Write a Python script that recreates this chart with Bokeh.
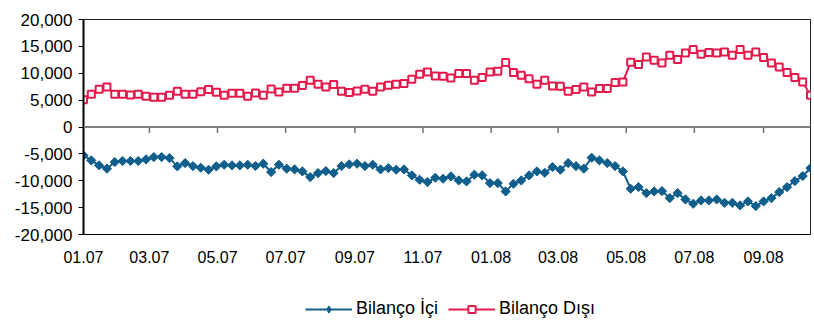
import numpy as np
import pandas as pd
from bokeh.plotting import figure
from bokeh.layouts import column
from bokeh.models import (Span, Legend, LegendItem, FixedTicker, NumeralTickFormatter,
                          DatetimeTickFormatter, Range1d)
from bokeh.embed import file_html
from bokeh.resources import INLINE

# weekly observations
dates = pd.date_range("2007-01-05", periods=94, freq="7D")

bilanco_ici = [
    -5280, -6210, -7140, -7760, -6520, -6330, -6330, -6330, -6020, -5590,
    -5590, -5780, -7330, -6710, -7270, -7580, -7950, -7330, -7020, -7140,
    -7140, -7020, -7270, -6830, -8380, -7020, -7760, -7890, -8260, -9320,
    -8570, -8200, -8570, -7270, -6960, -6830, -7270, -7020, -7890, -7640,
    -7950, -7890, -9000, -9810, -10250, -9440, -9630, -9190, -9940, -10120,
    -8880, -9000, -10430, -10430, -11990, -10560, -9940, -9000, -8260, -8510,
    -7450, -7950, -6710, -7270, -7760, -5710, -6210, -6710, -7270, -8260,
    -11490, -11180, -12300, -11990, -11920, -13230, -12300, -13480, -14280, -13660,
    -13660, -13480, -14100, -14100, -14590, -13850, -14720, -13850, -13230, -12110,
    -11180, -10060, -9130, -7640,
]

bilanco_disi = [
    5090, 6090, 7020, 7450, 6090, 6090, 5960, 6090, 5710, 5530,
    5530, 5900, 6650, 6090, 6090, 6580, 6960, 6460, 5900, 6270,
    6270, 5710, 6330, 5900, 7080, 6520, 7200, 7200, 7700, 8700,
    7950, 7450, 7890, 6650, 6400, 6710, 7020, 6650, 7450, 7760,
    7950, 8070, 8880, 9810, 10250, 9500, 9440, 9130, 9940, 9940,
    8700, 9190, 10250, 10370, 11990, 10120, 9630, 9000, 7950, 8700,
    7640, 7580, 6650, 6960, 7450, 6520, 7140, 7140, 8260, 8380,
    12050, 11610, 13040, 12420, 11920, 13350, 12540, 13790, 14410, 13540,
    13850, 13790, 13970, 13350, 14410, 13350, 13970, 12920, 11920, 11180,
    10120, 9190, 8380, 5900,
]

series_names = ["Bilanço İçi", "Bilanço Dışı"]
y_ticks = [-20000, -15000, -10000, -5000, 0, 5000, 10000, 15000, 20000]
tick_dates = [dates[0] + pd.DateOffset(months=2 * k) for k in range(11)]  # 01.07 ... 09.08

BLUE = "#105E8C"
RED = "#E5194B"
FONT = "Liberation Sans"

p = figure(x_axis_type="datetime", output_backend="svg", toolbar_location=None,
           width=814, height=286,
           min_border_left=83, min_border_right=4, min_border_top=19, min_border_bottom=52,
           x_range=Range1d(dates[0], dates[-1]), y_range=Range1d(-20000, 20000))
p.background_fill_color = "white"
p.border_fill_color = "white"
p.outline_line_color = "#222222"
p.outline_line_width = 1
p.xgrid.visible = False
p.ygrid.visible = False

# y axis
p.yaxis.ticker = FixedTicker(ticks=y_ticks)
p.yaxis.formatter = NumeralTickFormatter(format="0,0")
p.yaxis.axis_line_color = "black"
p.yaxis.axis_line_width = 2
p.yaxis.major_tick_out = 5
p.yaxis.major_tick_in = 0
p.yaxis.major_tick_line_color = "black"
p.yaxis.minor_tick_line_color = None
p.yaxis.major_label_standoff = 6
p.yaxis.major_label_text_font = FONT
p.yaxis.major_label_text_font_size = "17px"
p.yaxis.major_label_text_color = "black"

# x axis (labels at the bottom, ticks on the zero line)
tick_ms = [t.value // 10**6 for t in tick_dates]
p.xaxis.ticker = FixedTicker(ticks=tick_ms)
fmt = "%m.%y"
p.xaxis.formatter = DatetimeTickFormatter(milliseconds=fmt, seconds=fmt, minsec=fmt, minutes=fmt,
                                          hourmin=fmt, hours=fmt, days=fmt, months=fmt, years=fmt)
p.xaxis.axis_line_color = "black"
p.xaxis.axis_line_width = 1
p.xaxis.major_tick_out = 0
p.xaxis.major_tick_in = 0
p.xaxis.minor_tick_line_color = None
p.xaxis.major_label_standoff = 16
p.xaxis.major_label_text_font = FONT
p.xaxis.major_label_text_font_size = "16px"
p.xaxis.major_label_text_color = "black"

# zero line with its tick marks
p.add_layout(Span(location=0, dimension="width", line_color="#808080", line_width=2))
p.segment(x0=tick_dates[1:], y0=0, x1=tick_dates[1:], y1=-1100, line_color="#707070", line_width=1.5)

# series
p.line(dates, bilanco_ici, line_color=BLUE, line_width=2)
p.scatter(dates, bilanco_ici, marker="square", angle=np.pi / 4, size=6.5,
          fill_color=BLUE, line_color=BLUE, line_width=1)
p.line(dates, bilanco_disi, line_color=RED, line_width=2)
p.scatter(dates, bilanco_disi, marker="square", size=7,
          fill_color="white", line_color=RED, line_width=2)

# legend strip below the chart (its frame is aligned with the chart's frame)
pl = figure(width=814, height=34, output_backend="svg", toolbar_location=None,
            x_axis_location=None, y_axis_location=None,
            min_border_left=0, min_border_right=0, min_border_top=0, min_border_bottom=0,
            x_range=Range1d(0, 1), y_range=Range1d(0, 1))
pl.outline_line_color = None
pl.xgrid.visible = False
pl.ygrid.visible = False
pl.background_fill_color = "white"
pl.border_fill_color = "white"
nan = [np.nan]
g1 = pl.line(x=nan, y=nan, line_color=BLUE, line_width=2)
m1 = pl.scatter(x=nan, y=nan, marker="diamond", size=11,
                fill_color=BLUE, line_color=BLUE, line_width=1)
g2 = pl.line(x=nan, y=nan, line_color=RED, line_width=2)
m2 = pl.scatter(x=nan, y=nan, marker="square", size=7,
                fill_color="white", line_color=RED, line_width=2)

legend = Legend(items=[LegendItem(label=series_names[0], renderers=[g1, m1]),
                       LegendItem(label=series_names[1], renderers=[g2, m2])],
                orientation="horizontal", location=(222, 1),
                border_line_color=None, background_fill_alpha=0,
                padding=0, margin=0, spacing=10, glyph_width=47, glyph_height=18,
                label_height=18, label_standoff=4,
                label_text_font=FONT, label_text_font_size="18px", label_text_color="black")
pl.add_layout(legend)

layout = column(p, pl, spacing=0)
open("out.html", "w").write(file_html(layout, INLINE))
